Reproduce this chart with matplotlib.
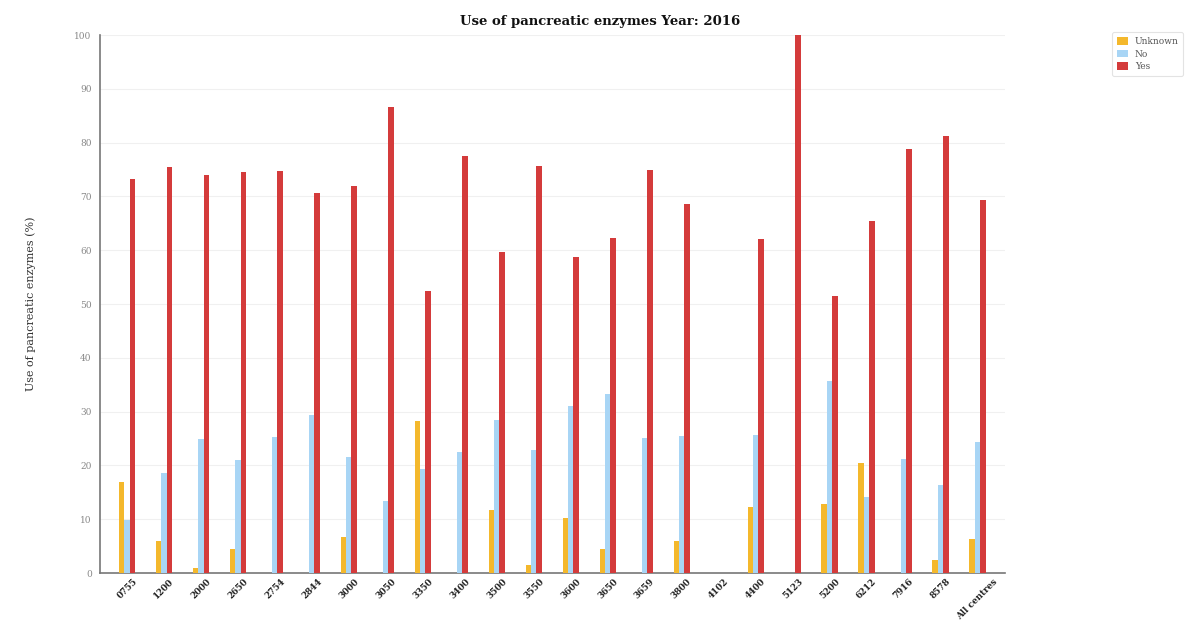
import matplotlib
matplotlib.use("Agg")
import matplotlib.pyplot as plt
import numpy as np

centres = ["0755", "1200", "2000", "2650", "2754", "2844", "3000", "3050",
           "3350", "3400", "3500", "3550", "3600", "3650", "3659", "3800",
           "4102", "4400", "5123", "5200", "6212", "7916", "8578", "All centres"]
unknown = [16.9, 5.9, 1.0, 4.5, 0, 0, 6.6, 0, 28.2, 0, 11.8, 1.5, 10.3, 4.5,
           0, 6.0, 0, 12.2, 0, 12.8, 20.4, 0, 2.5, 6.4]
no = [9.8, 18.6, 25.0, 21.0, 25.3, 29.4, 21.5, 13.4, 19.4, 22.5, 28.5, 22.9,
      31.0, 33.2, 25.1, 25.4, 0, 25.7, 0, 35.7, 14.2, 21.2, 16.3, 24.3]
yes = [73.3, 75.5, 74.0, 74.5, 74.7, 70.6, 71.9, 86.6, 52.4, 77.5, 59.7, 75.6,
       58.7, 62.3, 74.9, 68.6, 0, 62.1, 100.0, 51.5, 65.4, 78.8, 81.2, 69.3]

plt.rcParams['font.family'] = ['DejaVu Serif']

fig = plt.figure(figsize=(11.86, 6.2), dpi=100)
ax = fig.add_axes([0.0843, 0.0758, 0.7627, 0.8677])

x = np.arange(len(centres))
off = 0.15
w = 0.14
ax.bar(x - off, unknown, w, color="#f4b82c", label="Unknown", zorder=3)
ax.bar(x, no, w, color="#a8d5f5", label="No", zorder=3)
ax.bar(x + off, yes, w + 0.02, color="#d43b3b", label="Yes", zorder=3)

ax.set_xlim(-0.73, 23.73)
ax.set_ylim(0, 100)
ax.set_yticks(np.arange(0, 101, 10))
ax.yaxis.grid(True, color="#f0f0f0", linewidth=0.8, zorder=0)
ax.set_axisbelow(True)

ax.set_xticks(x)
ax.set_xticklabels(centres, rotation=45, ha="center",
                   fontsize=6.3, fontweight="bold", color="#222222")
ax.tick_params(axis="x", length=0, pad=3)
ax.tick_params(axis="y", length=0, labelsize=6.5, labelcolor="#888888", pad=6)

for s in ["top", "right"]:
    ax.spines[s].set_visible(False)
for s in ["left", "bottom"]:
    ax.spines[s].set_color("#777777")
    ax.spines[s].set_linewidth(1.2)

ax.set_ylabel("Use of pancreatic enzymes (%)", fontsize=8, color="#333333", labelpad=28)
fig.text(0.506, 0.965, "Use of pancreatic enzymes Year: 2016", ha="center", va="center",
         fontsize=9.5, fontweight="bold", color="#111111")

leg = fig.legend(loc="upper left", bbox_to_anchor=(0.934, 0.955), fontsize=6.5,
                 frameon=True, handlelength=1.2, handleheight=0.9, borderpad=0.5,
                 labelspacing=0.4)
leg.get_frame().set_edgecolor("#dddddd")
leg.get_frame().set_linewidth(0.8)
for t in leg.get_texts():
    t.set_color("#555555")

fig.savefig("out.png", dpi=100)
